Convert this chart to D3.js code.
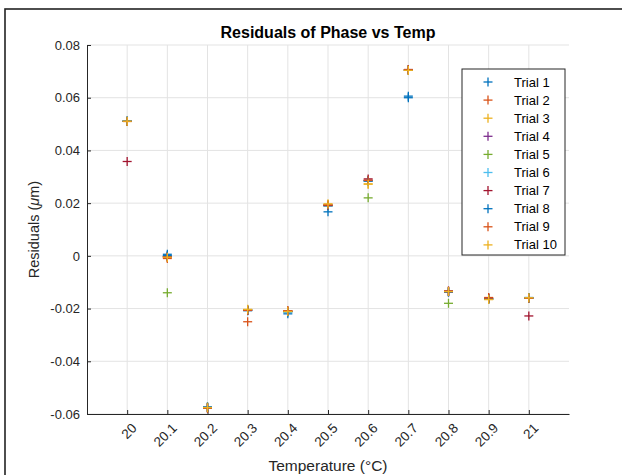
<!DOCTYPE html>
<html>
<head>
<meta charset="utf-8">
<script src="https://cdn.jsdelivr.net/npm/d3@7"></script>
<style>
  body { margin: 0; background: #fff; }
  text { font-family: "Liberation Sans", Arial, Helvetica, sans-serif; }
</style>
</head>
<body>
<div id="chart"></div>
<script>
var temps = [20, 20.1, 20.2, 20.3, 20.4, 20.5, 20.6, 20.7, 20.8, 20.9, 21];
var xTicks = [20, 20.1, 20.2, 20.3, 20.4, 20.5, 20.6, 20.7, 20.8, 20.9, 21];
var yTicks = [-0.06, -0.04, -0.02, 0, 0.02, 0.04, 0.06, 0.08];

var trial1  = [0.0512, 0.0006, -0.0574, -0.0208, -0.0212, 0.0190, 0.0284, 0.0606, -0.0137, -0.0162, -0.0158];
var trial2  = [0.0511, -0.0010, -0.0578, -0.0250, -0.0208, 0.0192, 0.0287, 0.0704, -0.0136, -0.0158, -0.0160];
var trial3  = [0.0510, -0.0004, -0.0572, -0.0204, -0.0210, 0.0196, 0.0273, 0.0706, -0.0134, -0.0163, -0.0159];
var trial4  = [0.0511, -0.0002, -0.0575, -0.0206, -0.0211, 0.0193, 0.0286, 0.0705, -0.0136, -0.0165, -0.0161];
var trial5  = [0.0511, -0.0140, -0.0576, -0.0205, -0.0212, 0.0190, 0.0220, 0.0704, -0.0180, -0.0165, -0.0160];
var trial6  = [0.0512, -0.0001, -0.0574, -0.0207, -0.0213, 0.0189, 0.0285, 0.0705, -0.0137, -0.0164, -0.0160];
var trial7  = [0.0358, -0.0003, -0.0577, -0.0206, -0.0210, 0.0191, 0.0292, 0.0707, -0.0133, -0.0161, -0.0228];
var trial8  = [0.0511, 0.0001, -0.0574, -0.0206, -0.0220, 0.0167, 0.0284, 0.0600, -0.0137, -0.0163, -0.0160];
var trial9  = [0.0510, -0.0006, -0.0577, -0.0207, -0.0209, 0.0193, 0.0286, 0.0705, -0.0136, -0.0160, -0.0161];
var trial10 = [0.0511, -0.0005, -0.0576, -0.0203, -0.0211, 0.0197, 0.0272, 0.0704, -0.0135, -0.0166, -0.0159];

var trialNames = ['Trial 1', 'Trial 2', 'Trial 3', 'Trial 4', 'Trial 5',
                  'Trial 6', 'Trial 7', 'Trial 8', 'Trial 9', 'Trial 10'];
var trialValues = [trial1, trial2, trial3, trial4, trial5, trial6, trial7, trial8, trial9, trial10];
var colors = ['#0072bd', '#d95319', '#edb120', '#7e2f8e', '#77ac30',
              '#4dbeee', '#a2142f', '#0072bd', '#d95319', '#edb120'];

var width = 622, height = 475;
var plot = { left: 87, right: 569, top: 45, bottom: 414 };

var svg = d3.select('#chart').append('svg')
    .attr('width', width)
    .attr('height', height);

// outer figure frame
svg.append('rect')
    .attr('x', 5).attr('y', 9)
    .attr('width', 640).attr('height', 500)
    .attr('fill', 'none')
    .attr('stroke', '#222')
    .attr('stroke-width', 1.6);

var x = d3.scaleLinear().domain([19.9, 21.1]).range([plot.left, plot.right]);
var y = d3.scaleLinear().domain([-0.06, 0.08]).range([plot.bottom, plot.top]);

// grid
var grid = svg.append('g');
grid.selectAll('.gx').data(xTicks).enter().append('line')
    .attr('x1', function(d) { return x(d); })
    .attr('x2', function(d) { return x(d); })
    .attr('y1', plot.top).attr('y2', plot.bottom)
    .attr('stroke', '#e3e3e3').attr('stroke-width', 1);
grid.selectAll('.gy').data(yTicks).enter().append('line')
    .attr('y1', function(d) { return y(d); })
    .attr('y2', function(d) { return y(d); })
    .attr('x1', plot.left).attr('x2', plot.right)
    .attr('stroke', '#e3e3e3').attr('stroke-width', 1);

// axes
var xAxis = svg.append('g')
    .attr('transform', 'translate(0,' + plot.bottom + ')')
    .call(d3.axisBottom(x).tickValues(xTicks).tickSize(-4).tickSizeOuter(0).tickFormat(d3.format('')));
xAxis.select('.domain').attr('stroke', '#262626');
xAxis.selectAll('.tick line').attr('stroke', '#262626');
xAxis.selectAll('.tick text')
    .attr('font-size', 13.5)
    .attr('fill', '#262626')
    .attr('text-anchor', 'end')
    .attr('dy', null)
    .attr('y', null)
    .attr('transform', 'translate(10,15) rotate(-45)');

var yAxis = svg.append('g')
    .attr('transform', 'translate(' + plot.left + ',0)')
    .call(d3.axisLeft(y).tickValues(yTicks).tickSize(-4).tickSizeOuter(0).tickPadding(7)
        .tickFormat(function(d) { return d === 0 ? '0' : d.toFixed(2); }));
yAxis.select('.domain').attr('stroke', '#262626');
yAxis.selectAll('.tick line').attr('stroke', '#262626');
yAxis.selectAll('.tick text').attr('font-size', 13).attr('fill', '#262626');

// markers
function plus(sel, size) {
    sel.append('line').attr('x1', -size).attr('x2', size).attr('y1', 0).attr('y2', 0);
    sel.append('line').attr('y1', -size).attr('y2', size).attr('x1', 0).attr('x2', 0);
}

trialValues.forEach(function(vals, i) {
    var g = svg.append('g')
        .attr('stroke', colors[i])
        .attr('stroke-width', 1.3);
    var pts = g.selectAll('g').data(vals).enter().append('g')
        .attr('transform', function(d, j) { return 'translate(' + x(temps[j]) + ',' + y(d) + ')'; });
    plus(pts, 4.5);
});

// title and labels
svg.append('text')
    .attr('x', (plot.left + plot.right) / 2).attr('y', 38)
    .attr('text-anchor', 'middle')
    .attr('font-size', 16).attr('font-weight', 'bold')
    .attr('fill', '#000')
    .text('Residuals of Phase vs Temp');

svg.append('text')
    .attr('x', (plot.left + plot.right) / 2).attr('y', 471)
    .attr('text-anchor', 'middle')
    .attr('font-size', 15.5).attr('fill', '#262626')
    .text('Temperature (\u00b0C)');

var yl = svg.append('text')
    .attr('transform', 'translate(39,' + ((plot.top + plot.bottom) / 2) + ') rotate(-90)')
    .attr('text-anchor', 'middle')
    .attr('font-size', 14.5).attr('fill', '#262626');
yl.append('tspan').text('Residuals (');
yl.append('tspan').attr('font-style', 'italic').text('\u03bc');
yl.append('tspan').text('m)');

// legend
var legend = svg.append('g').attr('transform', 'translate(462,69)');
legend.append('rect')
    .attr('width', 103).attr('height', 186)
    .attr('fill', '#fff')
    .attr('stroke', '#262626').attr('stroke-width', 1);
var rows = legend.selectAll('.row').data(trialNames).enter().append('g')
    .attr('transform', function(d, i) { return 'translate(0,' + (13 + i * 18.1) + ')'; });
rows.each(function(d, i) {
    var m = d3.select(this).append('g')
        .attr('transform', 'translate(26,0)')
        .attr('stroke', colors[i]).attr('stroke-width', 1.3);
    plus(m, 4.5);
});
rows.append('text')
    .attr('x', 52).attr('y', 4.5)
    .attr('font-size', 13).attr('fill', '#000')
    .text(function(d) { return d; });
</script>
</body>
</html>
